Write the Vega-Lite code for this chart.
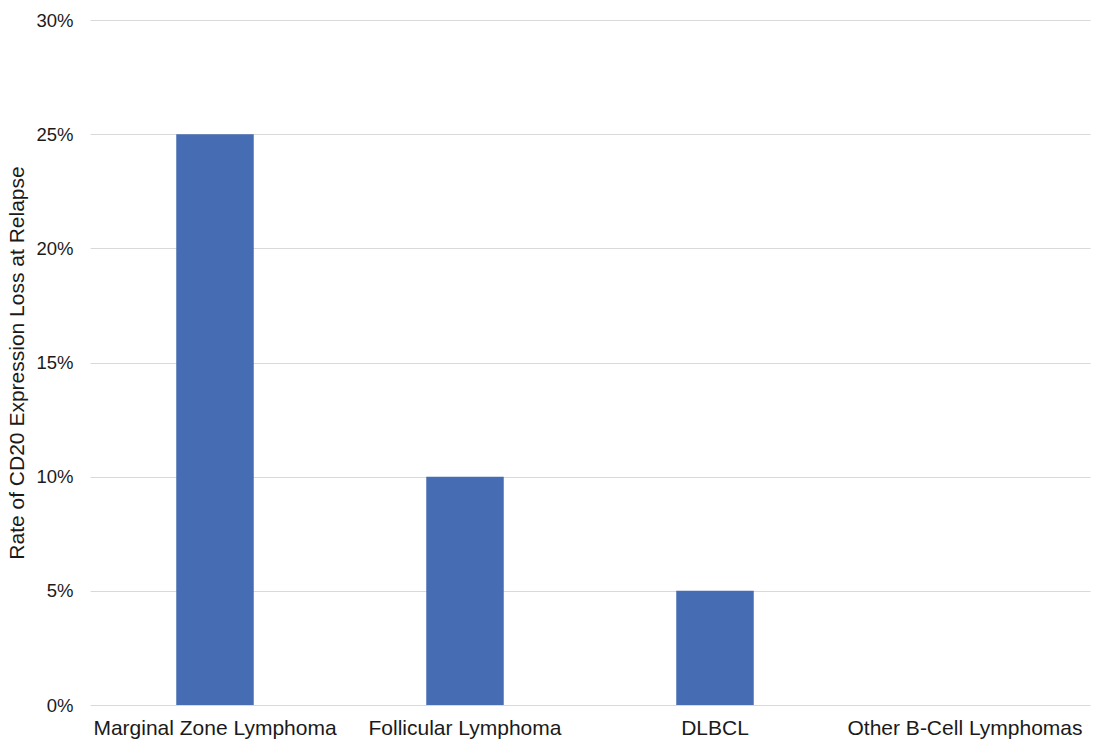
{
  "$schema": "https://vega.github.io/schema/vega-lite/v6.json",
  "width": 1000,
  "height": 685,
  "autosize": "none",
  "padding": {"left": 90, "top": 20, "right": 3, "bottom": 41},
  "background": "white",
  "data": {
    "values": [
      {"type": "Marginal Zone Lymphoma", "rate": 0.25},
      {"type": "Follicular Lymphoma", "rate": 0.10},
      {"type": "DLBCL", "rate": 0.05},
      {"type": "Other B-Cell Lymphomas", "rate": 0.0}
    ]
  },
  "mark": {"type": "bar", "color": "#466db3"},
  "encoding": {
    "x": {
      "field": "type",
      "type": "nominal",
      "sort": null,
      "scale": {"paddingInner": 0.69, "paddingOuter": 0.345},
      "axis": {
        "title": null,
        "labelAngle": 0,
        "labelFont": "Liberation Sans",
        "labelFontSize": 21,
        "labelLimit": 0,
        "labelColor": "#1a1a1a",
        "labelPadding": 12,
        "ticks": false,
        "domain": false
      }
    },
    "y": {
      "field": "rate",
      "type": "quantitative",
      "scale": {"domain": [0, 0.3]},
      "axis": {
        "title": "Rate of CD20 Expression Loss at Relapse",
        "titleFont": "Liberation Sans",
        "titleFontSize": 21,
        "titleFontWeight": "normal",
        "titleColor": "#1a1a1a",
        "titlePadding": 8,
        "format": ".0%",
        "values": [0, 0.05, 0.1, 0.15, 0.2, 0.25, 0.3],
        "labelFont": "Liberation Sans",
        "labelFontSize": 18.5,
        "labelColor": "#1a1a1a",
        "labelPadding": 17,
        "ticks": false,
        "domain": false,
        "grid": true,
        "gridColor": "#d9d9d9",
        "gridWidth": 1
      }
    }
  },
  "config": {"view": {"stroke": null}}
}
